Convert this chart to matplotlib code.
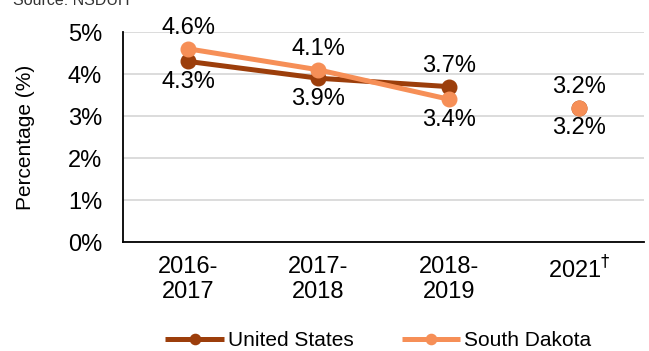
import matplotlib.pyplot as plt
import matplotlib as mpl
import numpy as np

# --- data
periods = ['2016-\n2017', '2017-\n2018', '2018-\n2019', '2021$^{\\dagger}$']
us_vals = [4.3, 3.9, 3.7, 3.2]
sd_vals = [4.6, 4.1, 3.4, 3.2]
# label placement: +1 above the point, -1 below
us_pos = [-1, -1, 1, -1]
sd_pos = [1, 1, -1, 1]
yticks = [0, 1, 2, 3, 4, 5]

c_us = '#9C3E0B'
c_sd = '#F68F57'

mpl.rcParams['font.family'] = ['Liberation Sans', 'DejaVu Sans']

fig = plt.figure(figsize=(6.49, 3.51), dpi=100)
ax = fig.add_axes([0.1895, 0.3105, 0.803, 0.5983])

x = np.arange(len(periods))

# --- lines for the consecutive years, separate point for 2021
ax.plot(x[:3], us_vals[:3], color=c_us, lw=3.6, marker='o', ms=10.5,
        label='United States', zorder=3, solid_capstyle='butt')
ax.plot(x[3:], us_vals[3:], color=c_us, ls='none', marker='o', ms=10.5, zorder=3)
ax.plot(x[:3], sd_vals[:3], color=c_sd, lw=3.6, marker='o', ms=10.5,
        label='South Dakota', zorder=4, solid_capstyle='butt')
ax.plot(x[3:], sd_vals[3:], color=c_sd, ls='none', marker='o', ms=10.5, zorder=4)

# --- value labels
for vals, pos in [(us_vals, us_pos), (sd_vals, sd_pos)]:
    for xi, v, p in zip(x, vals, pos):
        ax.annotate(f'{v:.1f}%', (xi, v), xytext=(0, 15 * p),
                    textcoords='offset points', ha='center', va='center',
                    fontsize=17, color='black')

ax.set_xlim(-0.5, 3.5)
ax.set_ylim(0, 5)
ax.set_yticks(yticks)
ax.set_yticklabels([f'{t}%' for t in yticks], fontsize=17)
ax.set_xticks(x)
ax.set_xticklabels(periods, fontsize=17)
ax.tick_params(axis='y', length=0, pad=15)
ax.tick_params(axis='x', length=0, pad=10)

ax.grid(axis='y', color='#D9D9D9', lw=1.3)
ax.set_axisbelow(True)
for s in ['top', 'right']:
    ax.spines[s].set_visible(False)
ax.spines['left'].set_linewidth(1.3)
ax.spines['bottom'].set_linewidth(1.3)

ax.set_ylabel('Percentage (%)', fontsize=15)
ax.yaxis.set_label_coords(-0.168, 0.5)

fig.legend(loc='center', bbox_to_anchor=(0.583, 0.03), ncol=2, frameon=False,
           fontsize=15, handlelength=2.8, handletextpad=0.2, columnspacing=2.3,
           markerscale=0.7)

fig.text(0.02, 1 - 5 / 351, 'Source: NSDUH', fontsize=11.5, va='baseline', color='#333333')

fig.savefig('out.png', dpi=100)
